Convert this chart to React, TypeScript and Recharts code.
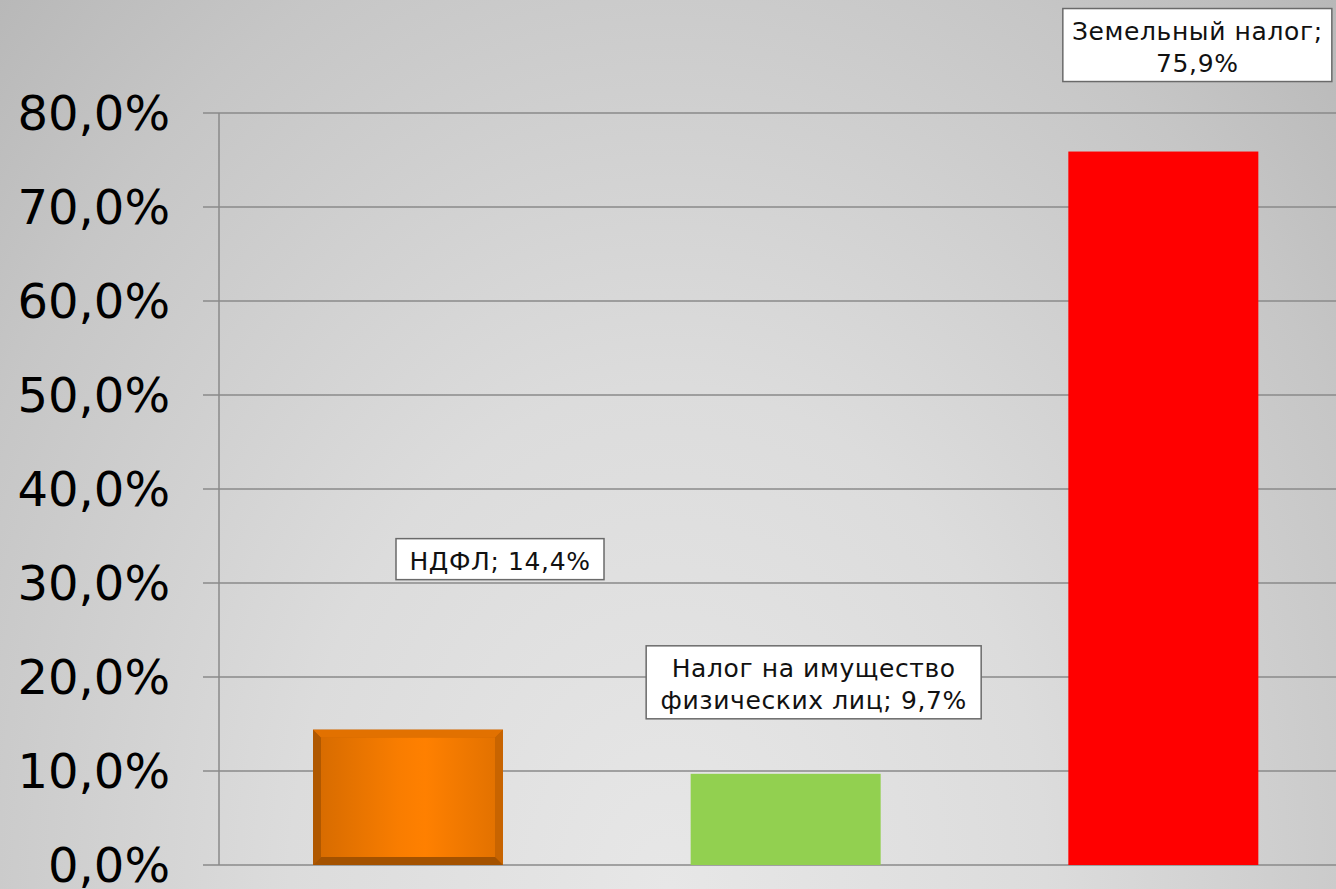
import React from 'react';
import { BarChart, Bar, XAxis, YAxis, CartesianGrid, Cell, LabelList } from 'recharts';

const categories = ['НДФЛ', 'Налог на имущество физических лиц', 'Земельный налог'];
const shares = [14.4, 9.7, 75.9];
const labelLines = [
  ['НДФЛ; 14,4%'],
  ['Налог на имущество', 'физических лиц; 9,7%'],
  ['Земельный налог;', '75,9%'],
];
const yTicks = [0, 10, 20, 30, 40, 50, 60, 70, 80];
const barColors = ['#ff8000', '#92d050', '#ff0000'];

// label box placement relative to the top-centre of each bar
const labelLayout = [
  { dx: 92, gap: 150, w: 208 },
  { dx: 28, gap: 55, w: 335 },
  { dx: 34, gap: 70, w: 269 },
];

const data = categories.map((name, i) => ({ name, value: shares[i] }));

const FONT = '"DejaVu Sans", Verdana, sans-serif';
const GRID = '#8a8a8a';

const fmt = (v: number) => v.toFixed(1).replace('.', ',') + '%';

const BarShape = (props: any) => {
  const { x, y, width, height, fill, index } = props;
  if (index !== 0) {
    return <rect x={x} y={y} width={width} height={height} fill={fill} />;
  }
  const b = 8;
  return (
    <g>
      <defs>
        <linearGradient id="orangeFace" x1="0" y1="0" x2="1" y2="0">
          <stop offset="0%" stopColor="#d86c00" />
          <stop offset="45%" stopColor="#f97d00" />
          <stop offset="60%" stopColor="#ff8000" />
          <stop offset="100%" stopColor="#e37200" />
        </linearGradient>
      </defs>
      <rect x={x} y={y} width={width} height={height} fill="#c06000" />
      <polygon points={`${x},${y} ${x + width},${y} ${x + width - b},${y + b} ${x + b},${y + b}`} fill="#e27100" />
      <polygon points={`${x},${y} ${x + b},${y + b} ${x + b},${y + height - b} ${x},${y + height}`} fill="#b05800" />
      <polygon points={`${x + width},${y} ${x + width},${y + height} ${x + width - b},${y + height - b} ${x + width - b},${y + b}`} fill="#c86400" />
      <polygon points={`${x},${y + height} ${x + b},${y + height - b} ${x + width - b},${y + height - b} ${x + width},${y + height}`} fill="#a45200" />
      <rect x={x + b} y={y + b} width={width - 2 * b} height={height - 2 * b} fill="url(#orangeFace)" />
    </g>
  );
};

const BoxLabel = (props: any) => {
  const { x, y, width, index } = props;
  const lines = labelLines[index];
  const lay = labelLayout[index];
  const lh = 32;
  const h = lines.length * lh + 9;
  const cx = x + width / 2 + lay.dx;
  const bottom = y - lay.gap;
  const top = bottom - h;
  return (
    <g>
      <rect x={cx - lay.w / 2} y={top} width={lay.w} height={h} fill="#ffffff" stroke="#6a6a6a" strokeWidth={1.5} />
      {lines.map((t, i) => (
        <text
          key={i}
          x={cx}
          y={top + 31 + i * lh}
          textAnchor="middle"
          fontFamily={FONT}
          fontSize={25}
          letterSpacing={0.6}
          fill="#111"
        >
          {t}
        </text>
      ))}
    </g>
  );
};

export default function App() {
  return (
    <div
      style={{
        position: 'absolute',
        left: 0,
        top: 0,
        width: 1336,
        height: 889,
        overflow: 'hidden',
        background: 'radial-gradient(ellipse farthest-corner at 50% 100%, #e7e7e7 0%, #dcdcdc 40%, #c6c6c6 80%, #b8b8b8 100%)',
      }}
    >
      <BarChart
        width={1352}
        height={889}
        data={data}
        margin={{ top: 113, right: 0, bottom: 24, left: 0 }}
        barSize={190}
        style={{ overflow: 'visible' }}
      >
        <CartesianGrid vertical={false} stroke={GRID} strokeWidth={1.5} />
        <XAxis dataKey="name" hide />
        <YAxis
          width={219}
          domain={[0, 80]}
          ticks={yTicks}
          tickFormatter={fmt}
          interval={0}
          axisLine={{ stroke: GRID, strokeWidth: 1.5 }}
          tickLine={{ stroke: GRID, strokeWidth: 1.5 }}
          tickSize={16}
          tickMargin={33}
          tick={{ fontFamily: FONT, fontSize: 48, fill: '#000' }}
        />
        <Bar dataKey="value" isAnimationActive={false} shape={<BarShape />}>
          {data.map((d, i) => (
            <Cell key={d.name} fill={barColors[i]} />
          ))}
          <LabelList dataKey="value" content={<BoxLabel />} />
        </Bar>
      </BarChart>
    </div>
  );
}
